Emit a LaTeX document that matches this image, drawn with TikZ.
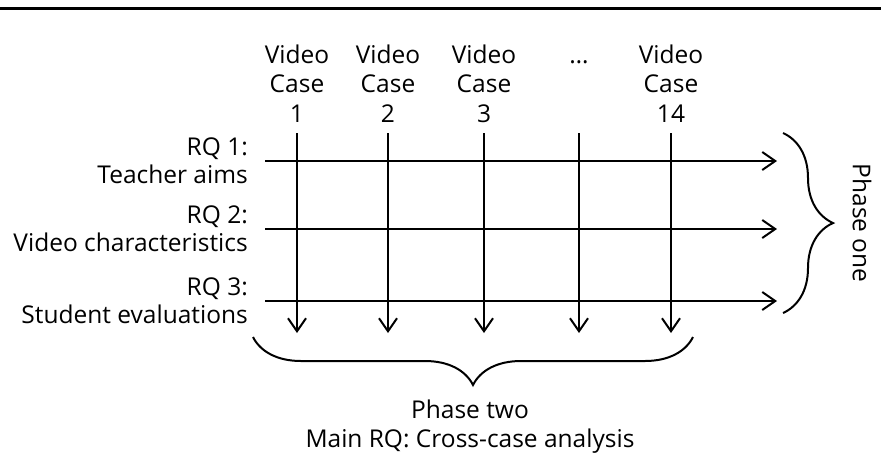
\documentclass[tikz,border=0pt]{standalone}
\usepackage{fontspec}
\setmainfont{Open Sans}
\usetikzlibrary{arrows.meta,decorations.pathreplacing}
\begin{document}
\begin{tikzpicture}[x=1pt,y=-1pt,
  lbl/.style={inner sep=0pt,font=\fontsize{24.5}{29.5}\selectfont},
  rlbl/.style={inner sep=0pt,font=\fontsize{24.5}{28}\selectfont,align=right,anchor=base east},
  ln/.style={line width=2pt},
  arr/.style={ln,-{Straight Barb[length=13pt,width=18pt,line width=2pt]}},
  brc/.style={ln,decorate,decoration={brace,amplitude=#1}}]
\useasboundingbox (0,0) rectangle (881,475);
\coordinate (tl) at (0,8.5);
\coordinate (tr) at (881,8.5);
\draw[line width=2.6pt] (tl) -- (tr);
% column labels
\foreach \i/\x/\t in {1/297/1,2/388/2,3/484/3,5/671/14}{
  \node[lbl,align=center,anchor=base] (c\i) at (\x,122) {Video\\Case\\\t};
  \coordinate (v\i) at (\x,133);
  \coordinate (w\i) at (\x,333);
}
\node[lbl,anchor=base] (c4) at (579,63) {\dots};
\coordinate (v4) at (579,133);
\coordinate (w4) at (579,333);
% row labels
\node[rlbl] (r1) at (248,183) {RQ 1:\\Teacher aims};
\node[rlbl] (r2) at (248,251) {RQ 2:\\Video characteristics};
\node[rlbl] (r3) at (248,323) {RQ 3:\\Student evaluations};
\foreach \i/\y in {1/161,2/229,3/301}{
  \coordinate (h\i) at (265,\y);
  \coordinate (e\i) at (777,\y);
}
\foreach \i in {1,...,5}{\draw[arr] (v\i) -- (w\i);}
\foreach \i in {1,2,3}{\draw[arr] (h\i) -- (e\i);}
% braces
\coordinate (b1) at (783,133);
\coordinate (b2) at (783,313);
\draw[brc=50pt] (b1) -- (b2);
\node[lbl,rotate=-90] (p1) at (862,223) {Phase one};
\coordinate (d1) at (693,337);
\coordinate (d2) at (253,337);
\draw[brc=48pt] (d1) -- (d2);
\node[lbl,anchor=base] (p2) at (470,418) {Phase two};
\node[lbl,anchor=base] (p3) at (470,447) {Main RQ: Cross-case analysis};
\end{tikzpicture}
\end{document}
